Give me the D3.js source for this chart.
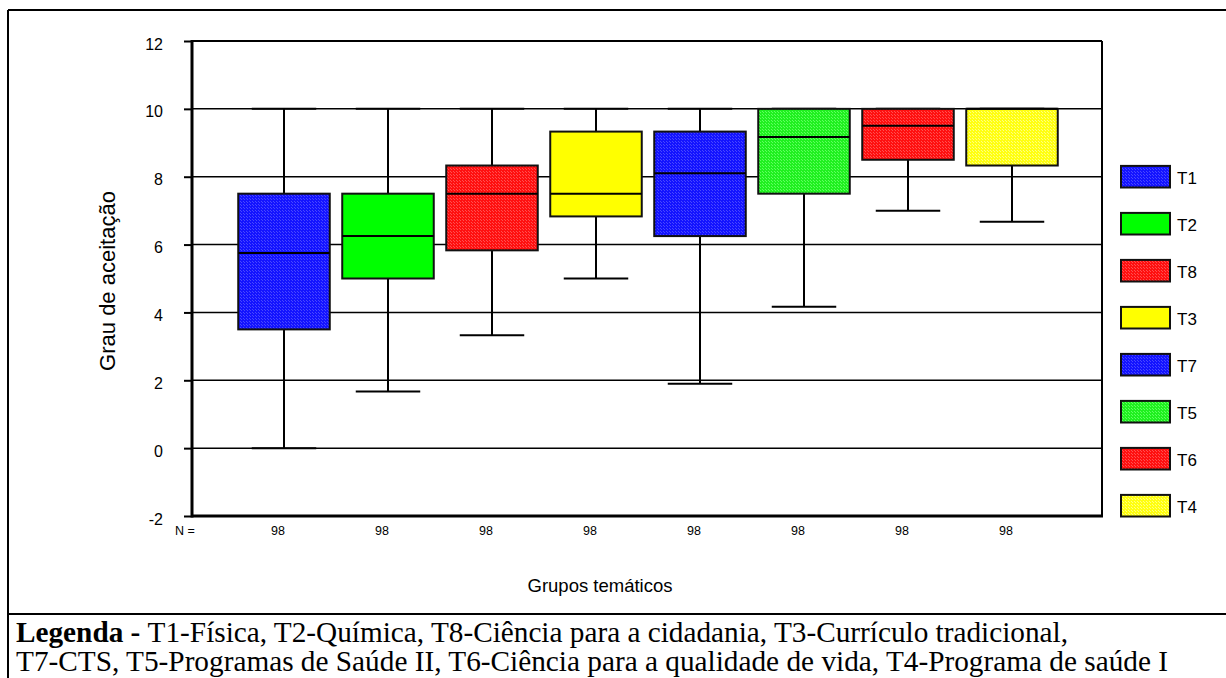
<!DOCTYPE html>
<html><head><meta charset="utf-8">
<script src="https://cdn.jsdelivr.net/npm/d3@7"></script>
<style>body{margin:0;background:#fff}svg{display:block}</style>
</head><body>
<svg id="c" width="1226" height="678"></svg>
<script>
const categories = ["T1","T2","T8","T3","T7","T5","T6","T4"];
const whiskerLow  = [0, 1.67, 3.33, 5, 1.9, 4.17, 7, 6.67];
const q1          = [3.5, 5, 5.83, 6.83, 6.25, 7.5, 8.5, 8.33];
const medians     = [5.75, 6.25, 7.5, 7.5, 8.1, 9.17, 9.5, 10];
const q3          = [7.5, 7.5, 8.33, 9.33, 9.33, 10, 10, 10];
const whiskerHigh = [10, 10, 10, 10, 10, 10, 10, 10];
const counts      = [98, 98, 98, 98, 98, 98, 98, 98];
const yTicks      = [-2, 0, 2, 4, 6, 8, 10, 12];
const fillBase    = ["#1414ff","#00ff00","#ff1010","#ffff00","#1414ff","#20f020","#ff1010","#ffff10"];
const fillAlt     = ["#4848ff","#00ff00","#ff5050","#ffff00","#4848ff","#60ff60","#ff5050","#ffff80"];
const captionLines = [
  [{t:"Legenda - ", b:true},{t:"T1-Física, T2-Química, T8-Ciência para a cidadania, T3-Currículo tradicional,", b:false}],
  [{t:"T7-CTS, T5-Programas de Saúde II, T6-Ciência para a qualidade de vida, T4-Programa de saúde I", b:false}]
];
const captionWidths = [1052, 1152];

const SANS = "Liberation Sans, Arial, sans-serif";
const svg = d3.select("#c");
const defs = svg.append("defs");
categories.forEach((c,i)=>{
  const p = defs.append("pattern").attr("id","pat"+i).attr("patternUnits","userSpaceOnUse")
    .attr("width",3).attr("height",3);
  p.append("rect").attr("width",3).attr("height",3).attr("fill",fillBase[i]);
  p.append("rect").attr("x",0).attr("y",0).attr("width",1).attr("height",1).attr("fill",fillAlt[i]);
  p.append("rect").attr("x",1).attr("y",1).attr("width",1).attr("height",1).attr("fill",fillAlt[i]);
});

function stext(x, yy, size, anchor, txt){
  return svg.append("text").attr("x",x).attr("y",yy)
    .attr("text-anchor",anchor).attr("font-family",SANS).attr("font-size",size).attr("fill","#000").text(txt);
}

// outer frame
svg.append("line").attr("x1",8).attr("x2",1226).attr("y1",10).attr("y2",10).attr("stroke","#000").attr("stroke-width",2);
svg.append("line").attr("x1",8).attr("x2",8).attr("y1",10).attr("y2",678).attr("stroke","#000").attr("stroke-width",2);
svg.append("line").attr("x1",8).attr("x2",1226).attr("y1",614).attr("y2",614).attr("stroke","#000").attr("stroke-width",2);

const L=192, R=1102, T=41, B=516;
const y = d3.scaleLinear().domain([-2,12]).range([B,T]);
const x = d3.scaleBand().domain(categories).range([232,1064]).paddingInner(0).paddingOuter(0);
const bw = x.bandwidth();

// gridlines
svg.append("g").selectAll("line").data(yTicks.filter(v=>v>-2 && v<12)).join("line")
  .attr("x1",L).attr("x2",R).attr("y1",d=>y(d)).attr("y2",d=>y(d))
  .attr("stroke","#000").attr("stroke-width",1.5);

// plot frame top/right
svg.append("line").attr("x1",L).attr("x2",R).attr("y1",T).attr("y2",T).attr("stroke","#000").attr("stroke-width",2);
svg.append("line").attr("x1",R).attr("x2",R).attr("y1",T).attr("y2",B).attr("stroke","#000").attr("stroke-width",2);

// y axis
const ya = svg.append("g").attr("transform",`translate(${L},0)`)
  .call(d3.axisLeft(y).tickValues(yTicks).tickSize(8).tickFormat(d=>String(d)));
ya.select(".domain").remove();
ya.selectAll(".tick line").attr("stroke","#000").attr("stroke-width",2);
ya.selectAll(".tick text").attr("font-family",SANS).attr("font-size",16).attr("fill","#000")
  .attr("x",-29).attr("dy","0.5em");
svg.append("line").attr("x1",L).attr("x2",L).attr("y1",T-1).attr("y2",B+1.5).attr("stroke","#000").attr("stroke-width",3);
svg.append("line").attr("x1",L).attr("x2",R+1).attr("y1",B).attr("y2",B).attr("stroke","#000").attr("stroke-width",3);

// boxes
const g = svg.append("g");
const data = categories.map((c,i)=>({c,i,lo:whiskerLow[i],q1:q1[i],med:medians[i],q3:q3[i],hi:whiskerHigh[i],n:counts[i]}));
const boxW = bw*0.88, capW = bw*0.62;
data.forEach(d=>{
  const cx = x(d.c)+bw/2;
  g.append("line").attr("x1",cx).attr("x2",cx).attr("y1",y(d.hi)).attr("y2",y(d.lo)).attr("stroke","#000").attr("stroke-width",2);
  g.append("line").attr("x1",cx-capW/2).attr("x2",cx+capW/2).attr("y1",y(d.lo)).attr("y2",y(d.lo)).attr("stroke","#000").attr("stroke-width",2);
  g.append("line").attr("x1",cx-capW/2).attr("x2",cx+capW/2).attr("y1",y(d.hi)).attr("y2",y(d.hi)).attr("stroke","#000").attr("stroke-width",2);
  g.append("rect").attr("x",cx-boxW/2).attr("y",y(d.q3)).attr("width",boxW).attr("height",y(d.q1)-y(d.q3))
    .attr("fill",`url(#pat${d.i})`).attr("stroke","#111").attr("stroke-width",2);
  g.append("line").attr("x1",cx-boxW/2).attr("x2",cx+boxW/2).attr("y1",y(d.med)).attr("y2",y(d.med)).attr("stroke","#000").attr("stroke-width",2);
  stext(cx-6, 535, 12.5, "middle", d.n);
});
stext(185, 535, 12.5, "middle", "N =");

// axis titles
svg.append("text").attr("transform","translate(115,281) rotate(-90)").attr("text-anchor","middle")
  .attr("font-family",SANS).attr("font-size",22).text("Grau de aceitação");
stext(600, 592, 18.5, "middle", "Grupos temáticos");

// legend
const leg = svg.append("g");
categories.forEach((c,i)=>{
  const ly = 176.7 + i*47;
  leg.append("rect").attr("x",1121).attr("y",ly-10.8).attr("width",49).attr("height",21.6)
    .attr("fill",`url(#pat${i})`).attr("stroke","#111").attr("stroke-width",2);
  stext(1177, ly+7, 17, "start", c);
});

// caption
captionLines.forEach((line,k)=>{
  const t = svg.append("text").attr("x",16).attr("y",642+k*29)
    .attr("font-family","Liberation Serif, Times New Roman, serif").attr("font-size",29)
    .attr("textLength",captionWidths[k]).attr("lengthAdjust","spacingAndGlyphs");
  line.forEach(s=>t.append("tspan").attr("font-weight",s.b?"bold":"normal").text(s.t));
});
</script>
</body></html>
